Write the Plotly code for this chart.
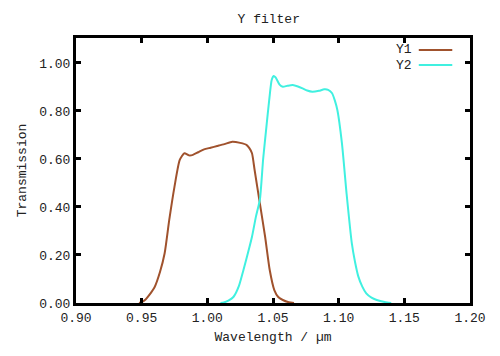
import plotly.graph_objects as go

# Y1 filter curve
y1_wl = [0.948, 0.950, 0.953, 0.956, 0.960, 0.964, 0.9675, 0.971, 0.975, 0.979, 0.9825,
         0.986, 0.989, 0.993, 0.9975, 1.0025, 1.0075, 1.013, 1.019, 1.025, 1.030, 1.032,
         1.034, 1.036, 1.040, 1.044, 1.0475, 1.051, 1.054, 1.0575, 1.062, 1.066]
y1_tr = [0.0, 0.004, 0.015, 0.035, 0.068, 0.13, 0.207, 0.346, 0.485, 0.596, 0.624,
         0.615, 0.617, 0.628, 0.640, 0.647, 0.654, 0.662, 0.672, 0.667, 0.658, 0.645,
         0.624, 0.554, 0.415, 0.276, 0.1375, 0.054, 0.025, 0.0125, 0.003, 0.0]

# Y2 filter curve
y2_wl = [1.010, 1.0125, 1.016, 1.020, 1.024, 1.0275, 1.031, 1.034, 1.037, 1.040, 1.0425,
         1.045, 1.047, 1.049, 1.0505, 1.052, 1.055, 1.0575, 1.061, 1.065, 1.069, 1.0725,
         1.076, 1.080, 1.085, 1.089, 1.092, 1.095, 1.097, 1.099, 1.1025, 1.106, 1.110,
         1.1125, 1.115, 1.118, 1.121, 1.125, 1.129, 1.135, 1.140]
y2_tr = [0.0, 0.002, 0.01, 0.026, 0.07, 0.1375, 0.21, 0.276, 0.36, 0.43, 0.6,
         0.735, 0.84, 0.929, 0.946, 0.94, 0.91, 0.901, 0.905, 0.908, 0.902, 0.894,
         0.885, 0.880, 0.884, 0.890, 0.888, 0.874, 0.845, 0.804, 0.665, 0.457, 0.249,
         0.17, 0.11, 0.068, 0.04, 0.022, 0.0125, 0.004, 0.0]

series_names = ["Y1", "Y2"]
x_ticks = [0.90, 0.95, 1.00, 1.05, 1.10, 1.15, 1.20]
y_ticks = [0.0, 0.2, 0.4, 0.6, 0.8, 1.0]

c1 = "#a0522d"
c2 = "#40f0e0"
font = "Liberation Mono, Courier New, monospace"
tcol = "#222"

fig = go.Figure()
fig.add_trace(go.Scatter(x=y1_wl, y=y1_tr, mode="lines", name=series_names[0],
                         line=dict(color=c1, width=2, shape="spline", smoothing=0.6)))
fig.add_trace(go.Scatter(x=y2_wl, y=y2_tr, mode="lines", name=series_names[1],
                         line=dict(color=c2, width=2, shape="spline", smoothing=0.6)))

axis_common = dict(showline=True, linecolor="black", linewidth=3, mirror="ticks",
                   ticks="inside", ticklen=5, tickwidth=3, tickcolor="black",
                   showgrid=False, zeroline=False,
                   tickfont=dict(family=font, size=13, color=tcol))

fig.update_xaxes(range=[0.90, 1.20], tickvals=x_ticks,
                 ticktext=[f"{v:.2f}" for v in x_ticks],
                 title=dict(text="Wavelength / µm", font=dict(family=font, size=13, color=tcol),
                            standoff=8),
                 **axis_common)
fig.update_yaxes(range=[0.0, 1.104], tickvals=y_ticks,
                 ticktext=[f"{v:.2f}" for v in y_ticks],
                 title=dict(text="Transmission", font=dict(family=font, size=13, color=tcol),
                            standoff=10),
                 **axis_common)

# Custom legend (text then sample line, as in the reference)
for i, (name, col) in enumerate(zip(series_names, [c1, c2])):
    yp = 0.955 - i * 0.057
    fig.add_annotation(x=0.857, y=yp, xref="paper", yref="paper", text=name,
                       showarrow=False, xanchor="right", yanchor="middle",
                       font=dict(family=font, size=13, color=tcol))
    fig.add_shape(type="line", xref="paper", yref="paper", x0=0.87, x1=0.955,
                  y0=yp, y1=yp, line=dict(color=col, width=2))

# page body has an 8px margin, so the figure is 8px smaller and shifted
fig.update_layout(
    width=492, height=348,
    margin=dict(l=62, r=30, t=30, b=53),
    paper_bgcolor="white", plot_bgcolor="white",
    showlegend=False,
    title=dict(text="Y filter", x=0.53, xanchor="center", y=0.971, yanchor="middle",
               font=dict(family=font, size=13, color=tcol)),
)

fig.write_html("out.html")
